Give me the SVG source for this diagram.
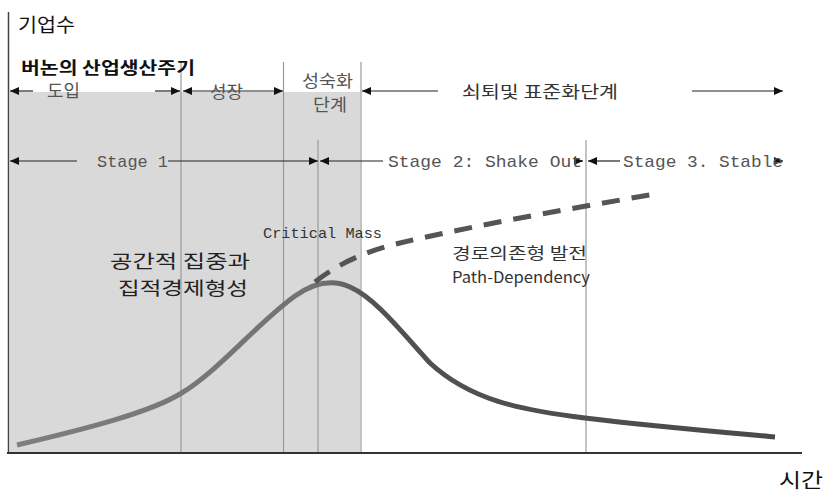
<svg xmlns="http://www.w3.org/2000/svg" width="829" height="495" viewBox="0 0 829 495">
<style>
.ko{font-family:"Noto Sans CJK KR","Noto Sans",sans-serif;}
.mono{font-family:"Liberation Mono","DejaVu Sans Mono",monospace;}
.vl{stroke:#9a9a9a;stroke-width:1.2;fill:none;}
.arr{stroke:#222;stroke-width:1.2;fill:none;marker-end:url(#ah);}
.lbl{fill:#555;font-size:17px;}
</style>
<defs>
<marker id="ah" viewBox="0 0 9 8" refX="9" refY="4" markerWidth="9" markerHeight="8" markerUnits="userSpaceOnUse" orient="auto-start-reverse">
<path d="M0,0 L9,4 L0,8 z" fill="#111"/>
</marker>
<linearGradient id="cg" gradientUnits="userSpaceOnUse" x1="17" y1="0" x2="775" y2="0">
<stop offset="0" stop-color="#7e7e7e"/>
<stop offset="0.4" stop-color="#727272"/>
<stop offset="0.47" stop-color="#525252"/>
<stop offset="1" stop-color="#4a4a4a"/>
</linearGradient>
</defs>
<rect width="829" height="495" fill="#fff"/>
<g id="shade"><rect x="10" y="92" width="350" height="361" fill="#d9d9d9"/></g>
<g id="gridlines">
<line class="vl" x1="181" y1="62" x2="181" y2="453"/>
<line class="vl" x1="283.5" y1="62" x2="283.5" y2="453"/>
<line class="vl" x1="318" y1="140" x2="318" y2="453"/>
<line class="vl" x1="361" y1="62" x2="361" y2="453"/>
<line class="vl" x1="586" y1="140" x2="586" y2="453"/>
</g>
<g id="axes">
<line x1="8.5" y1="12" x2="8.5" y2="453" stroke="#444" stroke-width="1.5"/>
<line x1="7" y1="453" x2="802" y2="453" stroke="#333" stroke-width="2"/>
<text class="ko" x="18" y="32" font-size="19" fill="#111" textLength="57" lengthAdjust="spacingAndGlyphs">기업수</text>
<text class="ko" x="779" y="488" font-size="20" fill="#111" textLength="44" lengthAdjust="spacingAndGlyphs">시간</text>
</g>
<g id="curves">
<path d="M17,445 C90,428 150,412 180,394 C220,370 255,325 295,296 C312,284 330,278 350,287 C375,298 400,330 430,363 C470,400 520,410 585,418 C650,426 720,432 775,437" fill="none" stroke="url(#cg)" stroke-width="5" stroke-linecap="butt"/>
<path d="M315,282 C340,262 370,250 400,243 C480,224 580,207 655,194" fill="none" stroke="#555" stroke-width="5" stroke-dasharray="18 12"/>
</g>
<g id="connectors">
<line class="arr" x1="33" y1="91" x2="10" y2="91"/>
<line class="arr" x1="155" y1="91" x2="180" y2="91"/>
<line class="arr" x1="183" y1="91" x2="283" y2="91" style="marker-start:url(#ah)"/>
<line class="arr" x1="438" y1="91" x2="362" y2="91"/>
<line class="arr" x1="692" y1="91" x2="783" y2="91"/>
<line class="arr" x1="77" y1="161" x2="10" y2="161"/>
<line class="arr" x1="168" y1="161" x2="318" y2="161"/>
<line class="arr" x1="383" y1="161" x2="320" y2="161"/>
<line class="arr" x1="574" y1="161" x2="583" y2="161"/>
<line class="arr" x1="620" y1="161" x2="588" y2="161"/>
<line class="arr" x1="774" y1="161" x2="783" y2="161"/>
</g>
<g id="title"><text class="ko" x="21" y="74" font-size="17" font-weight="bold" fill="#111" textLength="174" lengthAdjust="spacingAndGlyphs">버논의 산업생산주기</text></g>
<g id="stage-intro"><text class="ko lbl" x="47" y="97" textLength="33" lengthAdjust="spacingAndGlyphs">도입</text></g>
<g id="stage-growth"><text class="ko lbl" x="210" y="98" textLength="33" lengthAdjust="spacingAndGlyphs">성장</text></g>
<g id="stage-mature"><text class="ko lbl" x="302" y="87" font-size="14" textLength="51" lengthAdjust="spacingAndGlyphs">성숙화</text><text class="ko lbl" x="313" y="111" font-size="14" textLength="34" lengthAdjust="spacingAndGlyphs">단계</text></g>
<g id="stage-decline"><text class="ko" x="462" y="98" font-size="16.5" fill="#333" textLength="156" lengthAdjust="spacingAndGlyphs">쇠퇴및 표준화단계</text></g>
<g id="stage1"><text class="mono" x="97" y="167" font-size="17" fill="#555" textLength="71" lengthAdjust="spacingAndGlyphs">Stage 1</text></g>
<g id="stage2"><text class="mono" x="388" y="167" font-size="17" fill="#555" textLength="194" lengthAdjust="spacingAndGlyphs">Stage 2: Shake Out</text></g>
<g id="stage3"><text class="mono" x="623" y="167" font-size="17" fill="#555" textLength="160" lengthAdjust="spacingAndGlyphs">Stage 3. Stable</text></g>
<g id="critical-mass"><text class="mono" x="263" y="238" font-size="15" fill="#333" textLength="119" lengthAdjust="spacingAndGlyphs">Critical Mass</text></g>
<g id="agglomeration"><text class="ko" x="110" y="268" font-size="18" fill="#222" textLength="140" lengthAdjust="spacingAndGlyphs">공간적 집중과</text><text class="ko" x="118" y="295" font-size="18" fill="#222" textLength="130" lengthAdjust="spacingAndGlyphs">집적경제형성</text></g>
<g id="path-dependency"><text class="ko" x="452" y="259" font-size="16" fill="#333" textLength="135" lengthAdjust="spacingAndGlyphs">경로의존형 발전</text><text class="ko" x="452" y="283" font-size="15.5" fill="#333" textLength="138" lengthAdjust="spacingAndGlyphs">Path-Dependency</text></g>
</svg>
